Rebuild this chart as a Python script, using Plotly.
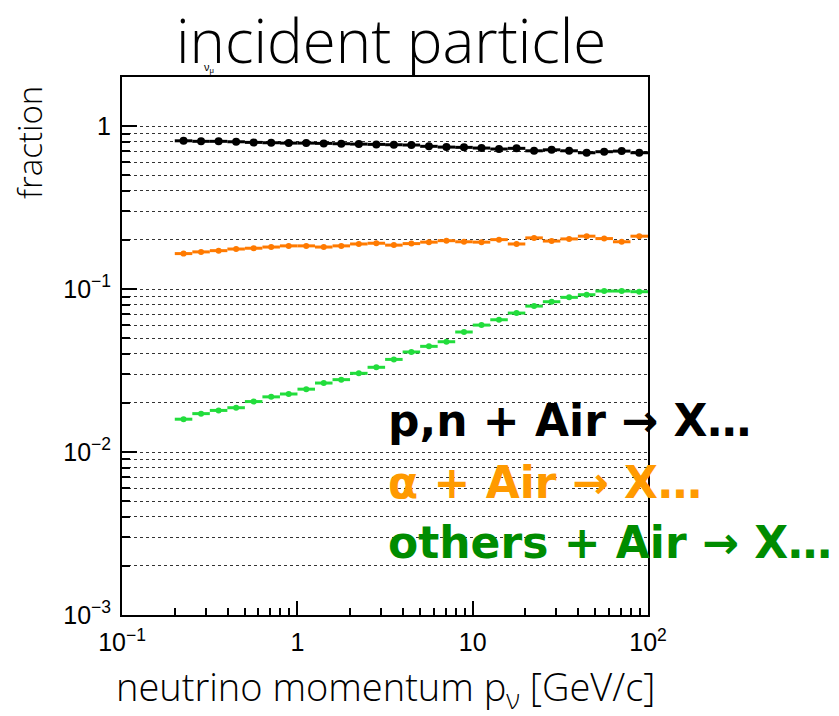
import numpy as np
import plotly.graph_objects as go

# Binning in neutrino momentum [GeV/c]: 10 log bins per decade from 0.2 to 100
bin_edges = np.logspace(np.log10(0.2), 2.0, 28)
bin_lo = bin_edges[:-1]
bin_hi = bin_edges[1:]
bin_centers = np.sqrt(bin_lo * bin_hi)

# Fraction of neutrinos by incident particle species
frac_pn = [0.812, 0.806, 0.806, 0.801, 0.794, 0.790, 0.786, 0.786, 0.783,
           0.779, 0.775, 0.772, 0.768, 0.765, 0.751, 0.743, 0.740, 0.733,
           0.723, 0.730, 0.705, 0.715, 0.705, 0.686, 0.696, 0.702, 0.686]
frac_alpha = [0.165, 0.169, 0.172, 0.176, 0.178, 0.181, 0.184, 0.184, 0.181,
              0.184, 0.189, 0.191, 0.186, 0.190, 0.194, 0.198, 0.195, 0.194,
              0.201, 0.189, 0.206, 0.197, 0.203, 0.211, 0.204, 0.195, 0.211]
frac_others = [0.0159, 0.0172, 0.0180, 0.0187, 0.0204, 0.0218, 0.0227, 0.0243,
               0.0265, 0.0278, 0.0304, 0.0331, 0.0370, 0.0411, 0.0445, 0.0475,
               0.0545, 0.0601, 0.0648, 0.0712, 0.0786, 0.0836, 0.0889, 0.0923,
               0.0972, 0.0972, 0.0963]

x_tickvals = [0.1, 1, 10, 100]
x_ticktext = ["10<sup>\u22121</sup>", "1", "10", "10<sup>2</sup>"]
y_tickvals = [0.001, 0.01, 0.1, 1]
y_ticktext = ["10<sup>\u22123</sup>", "10<sup>\u22122</sup>", "10<sup>\u22121</sup>", "1"]

x_minor = [m * 10.0 ** k for k in (-1, 0, 1) for m in range(2, 10)]
y_minor = [m * 10.0 ** k for k in (-3, -2, -1, 0) for m in range(2, 10)]

series = [
    ("p,n", frac_pn, "#000000", 8),
    ("alpha", frac_alpha, "#ff7a00", 6),
    ("others", frac_others, "#22dd3c", 6),
]

fig = go.Figure()
for name, vals, color, msize in series:
    fig.add_trace(go.Scatter(
        x=bin_centers, y=vals, mode="markers", name=name,
        marker=dict(color=color, size=msize, symbol="circle"),
        error_x=dict(type="data", symmetric=False,
                     array=bin_hi - bin_centers,
                     arrayminus=bin_centers - bin_lo,
                     color=color, thickness=3, width=0),
        showlegend=False,
    ))

tick_font = dict(family="Liberation Sans, Arial, sans-serif", size=25, color="black")
grid_common = dict(showgrid=True, gridcolor="rgba(0,0,0,0.8)", griddash="dot", gridwidth=1)

fig.update_xaxes(
    type="log", range=[-1, 2],
    tickmode="array", tickvals=x_tickvals, ticktext=x_ticktext,
    ticks="inside", ticklen=14, tickwidth=1.5, tickcolor="black",
    showgrid=False, zeroline=False,
    showline=True, linecolor="black", linewidth=2, mirror=True,
    tickfont=tick_font, ticklabelstandoff=4,
    minor=dict(tickmode="array", tickvals=x_minor, ticks="inside",
               ticklen=7, tickwidth=1.5, tickcolor="black", showgrid=False),
)
fig.update_yaxes(
    type="log", range=[-3, np.log10(2.0)],
    tickmode="array", tickvals=y_tickvals, ticktext=y_ticktext,
    ticks="inside", ticklen=15, tickwidth=1.5, tickcolor="black",
    zeroline=False,
    showline=True, linecolor="black", linewidth=2, mirror=True,
    tickfont=tick_font, ticklabelstandoff=4,
    minor=dict(tickmode="array", tickvals=y_minor, ticks="inside",
               ticklen=8, tickwidth=1.5, tickcolor="black", **grid_common),
    **grid_common,
)

L, R, T, B = 122, 648, 77, 615
W, H = 839, 716


def px(xp):
    return (xp - L) / (R - L)


def py(yp):
    return (B - yp) / (B - T)


light = dict(family="Open Sans, Roboto, sans-serif", color="black", weight=300)
bold = dict(family="DejaVu Sans, Liberation Sans, sans-serif", weight="bold")
annotations = [
    dict(text="incident particle", x=px(391), y=py(40), font=dict(size=60, **light)),
    dict(text="\u03bd<sub>\u03bc</sub>", x=px(209), y=py(68),
         font=dict(size=11, family="Liberation Sans", color="black")),
    dict(text="fraction", x=px(30), y=py(143), textangle=-90,
         font=dict(size=33, **light)),
    dict(text="neutrino momentum p<sub>\u03bd</sub> [GeV/c]", x=px(385), y=py(689),
         font=dict(size=38, **light)),
    dict(text="p,n + Air \u2192 X\u2026", x=px(386), y=py(420), xanchor="left",
         font=dict(size=44, color="black", **bold)),
    dict(text="\u03b1 + Air \u2192 X\u2026", x=px(386), y=py(482), xanchor="left",
         font=dict(size=44, color="#ff9a00", **bold)),
    dict(text="others + Air \u2192 X\u2026", x=px(386), y=py(542), xanchor="left",
         font=dict(size=44, color="#008c00", **bold)),
]
for a in annotations:
    a.setdefault("xanchor", "center")
    a.update(xref="paper", yref="paper", yanchor="middle", showarrow=False)

fig.update_layout(
    width=W, height=H,
    margin=dict(l=L, r=W - R, t=T, b=H - B, pad=0),
    paper_bgcolor="white", plot_bgcolor="white",
    annotations=annotations,
)

fig.write_html("out.html")
